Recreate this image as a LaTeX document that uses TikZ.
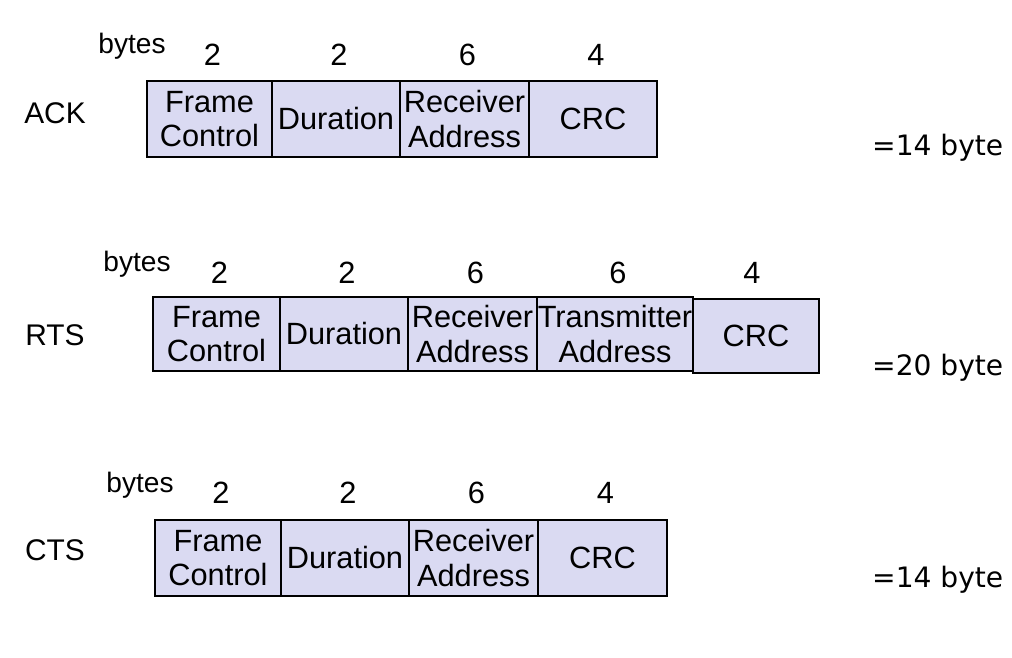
\documentclass[tikz,border=0pt]{standalone}
\usepackage{fontspec}
\setmainfont{Liberation Sans}
\newfontfamily\sumfont{DejaVu Sans}
\usetikzlibrary{positioning}
\definecolor{fieldfill}{RGB}{218,218,242}
\tikzset{
  field/.style={draw=black, line width=1pt, fill=fieldfill, align=center,
    inner sep=0pt, minimum height=1.52cm, font=\fontsize{17.5}{19.8}\selectfont},
  framename/.style={font=\fontsize{17}{19}\selectfont},
  bytecount/.style={font=\fontsize{17.5}{19}\selectfont},
  byteslabel/.style={font=\fontsize{16}{18}\selectfont},
  total/.style={anchor=base west, font=\sumfont\fontsize{16}{19}\selectfont}
}
\begin{document}
\begin{tikzpicture}[x=0.02cm, y=-0.02cm]
  \useasboundingbox (0,0) rectangle (1012,658);

  % ACK
  \node[framename] (ack) at (55,113) {ACK};
  \node[byteslabel] (ackbytes) at (132,46) {bytes};
  \foreach \n/\l/\r/\t/\v in {fc/147/272/{Frame\\Control}/2, dur/272/400/Duration/2,
      ra/400/529/{Receiver\\Address}/6, crc/529/657/CRC/4}{
    \node[field, minimum width={(\r-\l)*0.02cm}] (ack\n) at ({(\l+\r)/2},119) {\t};
    \node[bytecount] (acknum\n) at ({(\l+\r)/2+3},55) {\v};
  }
  \node[total] (acktotal) at (866,156) {=14 byte};

  % RTS
  \node[framename] (rts) at (55,335) {RTS};
  \node[byteslabel] (rtsbytes) at (137,264) {bytes};
  \foreach \n/\l/\r/\t/\v in {fc/153/280/{Frame\\Control}/2, dur/280/408/Duration/2,
      ra/408/537/{Receiver\\Address}/6, ta/537/693/{Transmitter\\Address}/6}{
    \node[field, minimum width={(\r-\l)*0.02cm}, minimum height=1.48cm] (rts\n) at ({(\l+\r)/2},334) {\t};
    \node[bytecount] (rtsnum\n) at ({(\l+\r)/2+3},273) {\v};
  }
  \node[field, minimum width=2.52cm, minimum height=1.48cm] (rtscrc) at (756,336) {CRC};
  \node[bytecount] (rtsnumcrc) at (752,273) {4};
  \node[total] (rtstotal) at (866,376) {=20 byte};

  % CTS
  \node[framename] (cts) at (55,550) {CTS};
  \node[byteslabel] (ctsbytes) at (140,485) {bytes};
  \foreach \n/\l/\r/\t/\v in {fc/155/281/{Frame\\Control}/2, dur/281/409/Duration/2,
      ra/409/538/{Receiver\\Address}/6, crc/538/667/CRC/4}{
    \node[field, minimum width={(\r-\l)*0.02cm}] (cts\n) at ({(\l+\r)/2},558) {\t};
    \node[bytecount] (ctsnum\n) at ({(\l+\r)/2+3},493) {\v};
  }
  \node[total] (ctstotal) at (866,588) {=14 byte};
\end{tikzpicture}
\end{document}
